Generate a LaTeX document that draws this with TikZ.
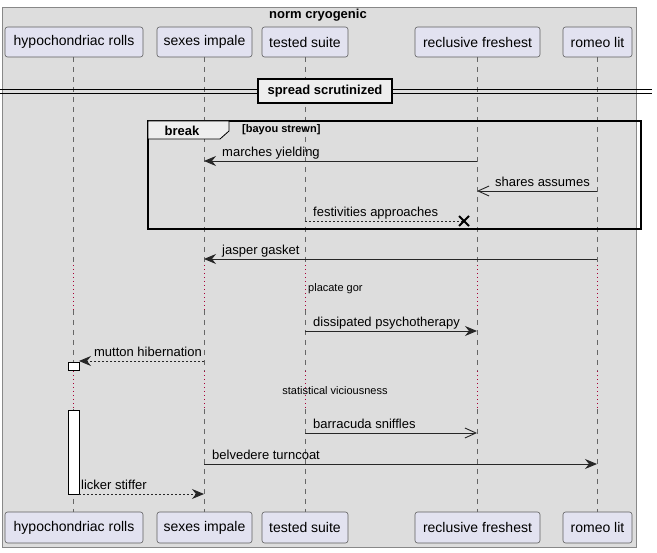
\documentclass[tikz,border=0pt]{standalone}
\usepackage{fontspec}
\setmainfont{Liberation Sans}
\usetikzlibrary{arrows.meta}
\definecolor{framebg}{HTML}{DDDDDD}
\definecolor{framedraw}{HTML}{888888}
\definecolor{partfill}{HTML}{E2E2F0}
\definecolor{partdraw}{HTML}{5E5E5E}
\definecolor{lifeclr}{HTML}{666666}
\definecolor{delayclr}{HTML}{A80036}
\definecolor{tabfill}{HTML}{EEEEEE}
\tikzset{
  part/.style={draw=partdraw, fill=partfill, line width=0.6pt, rounded corners=2.5pt,
    minimum height=30pt, inner xsep=0pt, font=\fontsize{14}{16}\selectfont},
  lifeline/.style={draw=lifeclr, line width=0.6pt, dash pattern=on 5pt off 5pt},
  delayline/.style={draw=delayclr, line width=0.8pt, dash pattern=on 1pt off 3pt},
  msgfilled/.style={draw=black!85, line width=0.9pt, -{Stealth[length=12pt,width=10pt,inset=4pt]}},
  msgopen/.style={draw=black!85, line width=0.9pt, -{Straight Barb[length=11pt,width=10pt]}},
  msgdash/.style={dash pattern=on 2pt off 2pt},
  lbl/.style={font=\fontsize{13}{15}\selectfont, inner sep=0pt},
  delaytxt/.style={font=\fontsize{11}{13}\selectfont, inner sep=0pt},
  actbox/.style={draw=black, fill=white, line width=0.8pt},
}
\begin{document}
\begin{tikzpicture}[x=1pt,y=-1pt]
\useasboundingbox (0,0) rectangle (657,553);
% outer frame
\draw[fill=framebg, draw=framedraw, line width=0.8pt] (2,7) rectangle (636,547);
\node[font=\bfseries\fontsize{13}{15}\selectfont, anchor=base, inner sep=0pt] (title) at (318,19) {norm cryogenic};

% participants top
\node[part, minimum width=138pt] (hT) at (74,42) {hypochondriac rolls};
\node[part, minimum width=95pt] (sT) at (204.5,42) {sexes impale};
\node[part, minimum width=86pt] (tT) at (305,42) {tested suite};
\node[part, minimum width=125pt] (rT) at (477.5,42) {reclusive freshest};
\node[part, minimum width=69pt] (oT) at (597.5,42) {romeo lit};
% participants bottom
\node[part, minimum width=138pt, minimum height=31pt] (hB) at (74,527.5) {hypochondriac rolls};
\node[part, minimum width=95pt, minimum height=31pt] (sB) at (204.5,527.5) {sexes impale};
\node[part, minimum width=86pt, minimum height=31pt] (tB) at (305,527.5) {tested suite};
\node[part, minimum width=125pt, minimum height=31pt] (rB) at (477.5,527.5) {reclusive freshest};
\node[part, minimum width=69pt, minimum height=31pt] (oB) at (597.5,527.5) {romeo lit};

% lifelines (x positions)
\foreach \n/\x in {h/73, s/204, t/305, r/477, o/597}{
  \coordinate (\n1) at (\x,57);
  \coordinate (\n2) at (\x,265);
  \coordinate (\n3) at (\x,310);
  \coordinate (\n4) at (\x,371);
  \coordinate (\n5) at (\x,409);
  \coordinate (\n6) at (\x,512);
  \draw[lifeline] (\n1) -- (\n2);
  \draw[delayline] (\n2) -- (\n3);
  \draw[lifeline] (\n3) -- (\n4);
  \draw[delayline] (\n4) -- (\n5);
  \draw[lifeline] (\n5) -- (\n6);
}

% divider
\coordinate (dL) at (0,91);
\coordinate (dR) at (652,91);
\draw[line width=0.8pt] ([yshift=-2pt]dL) -- ([yshift=-2pt]dR);
\draw[line width=0.8pt] ([yshift=2pt]dL) -- ([yshift=2pt]dR);
\node[draw=black, fill=tabfill, line width=2pt, minimum width=134pt, minimum height=24pt,
  inner sep=0pt, font=\bfseries\fontsize{13}{15}\selectfont] (div) at (325,91) {spread scrutinized};

% break group
\draw[line width=1.5pt] (148,121) rectangle (641,229);
\draw[fill=tabfill, line width=0.8pt] (148,121) -- (229,121) -- (229,131) -- (220,139) -- (148,139) -- cycle;
\node[font=\bfseries\fontsize{13}{15}\selectfont, inner sep=0pt] (brk) at (182,130.5) {break};
\node[font=\bfseries\fontsize{11}{13}\selectfont, inner sep=0pt, anchor=west] (cond) at (242,130) {[bayou strewn]};

% messages
\coordinate (m1a) at (477,161); \coordinate (m1b) at (204,161);
\draw[msgfilled] (m1a) -- (m1b);
\node[lbl, anchor=base west] (l1) at (222,157) {marches yielding};

\coordinate (m2a) at (597,191); \coordinate (m2b) at (477,191);
\draw[msgopen] (m2a) -- (m2b);
\node[lbl, anchor=base east] (l2) at (590,187) {shares assumes};

\coordinate (m3a) at (305,221); \coordinate (m3b) at (464,221);
\draw[draw=black!85, line width=0.8pt, msgdash] (m3a) -- (m3b);
\draw[line width=1.8pt] ([shift={(-5,-5)}]m3b) -- ([shift={(5,5)}]m3b);
\draw[line width=1.8pt] ([shift={(-5,5)}]m3b) -- ([shift={(5,-5)}]m3b);
\node[lbl, anchor=base west] (l3) at (313,217) {festivities approaches};

\coordinate (m4a) at (597,259); \coordinate (m4b) at (204,259);
\draw[msgfilled] (m4a) -- (m4b);
\node[lbl, anchor=base west] (l4) at (222,255) {jasper gasket};

\node[delaytxt, anchor=base west] (d1) at (308,292) {placate gor};

\coordinate (m5a) at (305,331); \coordinate (m5b) at (477,331);
\draw[msgfilled] (m5a) -- (m5b);
\node[lbl, anchor=base west] (l5) at (313,327) {dissipated psychotherapy};

% activation
\draw[actbox] (68,362) rectangle (79,370);
\draw[actbox] (68,410) rectangle (79,494);
\coordinate (m6a) at (204,361); \coordinate (m6b) at (79,361);
\draw[msgfilled, msgdash] (m6a) -- (m6b);
\node[lbl, anchor=base east] (l6) at (202,357) {mutton hibernation};

\node[delaytxt, anchor=base] (d2) at (335,395) {statistical viciousness};

\coordinate (m7a) at (305,433); \coordinate (m7b) at (477,433);
\draw[msgopen] (m7a) -- (m7b);
\node[lbl, anchor=base west] (l7) at (313,429) {barracuda sniffles};

\coordinate (m8a) at (204,464); \coordinate (m8b) at (597,464);
\draw[msgfilled] (m8a) -- (m8b);
\node[lbl, anchor=base west] (l8) at (212,460) {belvedere turncoat};

\coordinate (m9a) at (79,494); \coordinate (m9b) at (204,494);
\draw[msgfilled, msgdash] (m9a) -- (m9b);
\node[lbl, anchor=base west] (l9) at (81,490) {licker stiffer};
\end{tikzpicture}
\end{document}
